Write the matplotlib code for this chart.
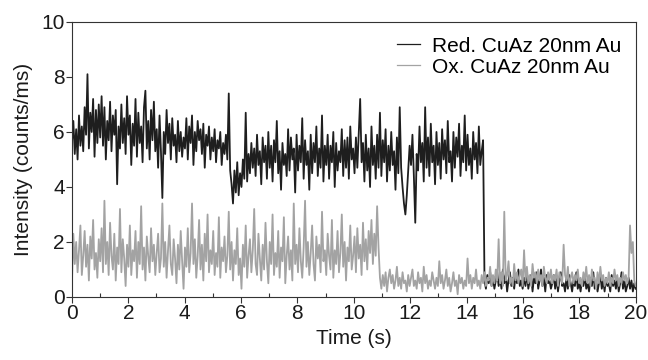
#!/usr/bin/env python3

import matplotlib
matplotlib.use('Agg')
import matplotlib.pyplot as plt
import numpy as np
from matplotlib.ticker import MultipleLocator

# intensity traces, one row per second (20 samples/s)
red = [
    5.6, 6.4, 5.2, 6.1, 5.0, 6.6, 5.5, 6.2, 5.3, 6.9, 5.9, 8.1, 5.4, 6.7, 6.0, 7.2, 5.1, 6.8, 5.6, 7.0,
    5.8, 7.3, 5.5, 6.9, 5.0, 6.4, 5.7, 7.1, 5.3, 6.6, 5.9, 6.8, 4.1, 6.2, 5.4, 7.0, 5.6, 6.5, 5.2, 7.3,
    5.9, 6.6, 4.8, 6.3, 5.5, 7.2, 5.1, 6.7, 5.6, 6.2, 4.9, 6.9, 7.5, 5.4, 6.4, 5.0, 6.8, 5.7, 7.1, 5.3,
    6.1, 4.7, 6.6, 5.3, 3.6, 6.0, 5.2, 6.8, 5.6, 6.3, 5.0, 6.5, 5.5, 5.9, 4.9, 6.4, 5.3, 6.0, 5.1, 5.8,
    5.4, 6.5, 5.0, 6.2, 5.6, 6.6, 4.8, 6.0, 5.3, 6.4, 5.7, 6.1, 5.2, 6.3, 4.7, 5.9, 5.5, 6.2, 5.0, 5.8,
    5.3, 6.1, 4.9, 5.7, 5.4, 6.0, 4.8, 5.6, 5.2, 5.9, 5.0, 7.4, 4.6, 4.1, 3.4, 4.6, 3.8, 4.9, 3.7, 4.5,
    4.0, 5.0, 4.3, 6.7, 4.2, 5.2, 4.5, 5.6, 4.7, 5.4, 4.4, 5.9, 4.8, 5.3, 4.1, 5.8, 4.9, 5.5, 4.3, 6.0,
    4.7, 5.5, 4.2, 5.7, 4.9, 6.4, 4.5, 5.3, 3.9, 5.6, 4.8, 5.2, 4.4, 6.1, 4.6, 5.8, 5.0, 5.4, 3.8, 5.9,
    4.6, 5.5, 4.9, 6.5, 4.3, 5.7, 4.8, 5.3, 3.9, 5.9, 4.5, 5.6, 4.9, 6.2, 4.4, 5.4, 4.7, 6.6, 4.2, 5.5,
    4.8, 5.9, 4.3, 5.5, 4.9, 6.0, 4.0, 5.6, 4.6, 5.3, 4.9, 6.1, 4.4, 5.7, 4.7, 5.8, 4.3, 6.2, 5.0, 5.4,
    4.5, 5.8, 4.7, 6.0, 7.2, 4.9, 5.6, 4.2, 5.9, 4.6, 5.4, 4.0, 6.2, 4.8, 5.5, 4.3, 5.9, 4.7, 6.7, 4.4,
    5.7, 4.9, 6.1, 4.2, 5.5, 4.6, 6.0, 4.8, 5.3, 3.9, 5.8, 4.5, 6.9, 4.7, 4.0, 3.4, 3.0, 3.7, 4.6, 5.5,
    4.8, 5.9, 4.4, 2.7, 5.2, 4.6, 6.2, 4.9, 5.6, 4.2, 6.9, 4.7, 5.8, 4.4, 6.3, 4.9, 5.5, 4.1, 6.0, 4.8,
    5.6, 4.3, 6.1, 5.0, 5.7, 4.5, 6.4, 4.9, 5.3, 4.2, 6.0, 4.7, 5.8, 5.1, 6.3, 4.4, 5.5, 4.9, 6.6, 4.6,
    5.9, 4.8, 5.4, 4.3, 6.0, 5.0, 5.6, 4.5, 6.2, 4.8, 5.3, 5.7, 0.6, 0.3, 0.8, 0.5, 0.9, 0.4, 0.7, 0.3,
    0.6, 0.9, 0.4, 0.7, 0.3, 1.0, 0.5, 0.8, 0.2, 0.6, 0.9, 0.4, 0.7, 0.3, 0.8, 0.5, 1.0, 0.4, 0.6, 0.3,
    0.7, 0.4, 0.9, 0.3, 0.6, 0.8, 0.2, 0.7, 0.5, 0.9, 0.3, 0.6, 1.0, 0.4, 0.7, 0.2, 0.8, 0.5, 0.6, 0.3,
    0.5, 0.8, 0.3, 0.7, 0.2, 0.6, 0.9, 0.4, 0.5, 0.2, 0.7, 0.3, 0.8, 0.5, 0.2, 0.6, 0.4, 0.9, 0.3, 0.5,
    0.2, 0.6, 0.4, 0.8, 0.3, 0.5, 0.2, 0.7, 0.4, 0.9, 0.3, 0.6, 0.2, 0.5, 0.8, 0.3, 0.6, 0.2, 0.7, 0.4,
    0.5, 0.2, 0.8, 0.4, 0.6, 0.3, 0.7, 0.2, 0.5, 0.9, 0.3, 0.6, 0.2, 0.4, 0.7, 0.3, 0.6, 0.2, 0.5, 0.3,
]

ox = [
    0.5, 2.3, 1.2, 2.0, 0.9, 1.7, 2.6, 0.8, 1.5, 2.4, 1.1, 1.9, 0.6, 2.2, 1.4, 2.8, 1.0, 1.6, 0.7, 2.1,
    1.3, 2.5, 0.9, 3.5, 1.2, 2.0, 0.8, 2.7, 1.5, 1.0, 2.3, 0.6, 1.8, 1.2, 3.2, 0.9, 2.1, 1.4, 0.4, 1.9,
    1.1, 2.6, 0.8, 1.7, 1.3, 2.4, 0.7, 2.0, 1.2, 3.3, 1.0, 1.8, 0.6, 2.2, 1.5, 0.9, 2.5, 1.3, 1.9, 0.8,
    1.6, 2.3, 0.9, 1.4, 3.4, 1.1, 2.0, 0.7, 1.7, 2.6, 1.2, 0.8, 2.1, 1.4, 0.5, 1.9, 1.0, 2.4, 1.3, 0.3,
    1.8, 1.1, 2.5, 0.9, 1.6, 3.4, 1.2, 2.1, 0.7, 1.5, 2.8, 1.0, 1.9, 0.6, 2.3, 1.3, 3.0, 0.9, 1.7, 1.2,
    2.4, 0.8, 1.6, 1.1, 2.9, 0.7, 1.8, 1.3, 2.2, 0.9, 1.5, 3.1, 1.0, 2.0, 0.6, 1.7, 1.2, 2.5, 0.8, 1.4,
    0.3, 1.9, 1.1, 2.6, 0.7, 1.5, 2.1, 0.9, 1.7, 3.2, 1.2, 0.8, 2.3, 1.4, 0.6, 1.9, 1.0, 2.7, 1.3, 0.5,
    2.0, 1.2, 3.0, 0.8, 1.6, 1.1, 2.4, 0.7, 1.8, 1.3, 2.9, 0.5, 1.5, 2.2, 1.0, 1.7, 0.6, 3.4, 1.2, 1.9,
    0.9, 2.5, 1.3, 0.7, 1.8, 3.5, 1.1, 2.0, 0.8, 1.6, 2.6, 1.2, 0.6, 2.2, 1.4, 1.9, 0.9, 3.1, 1.3, 1.7,
    0.8, 2.3, 1.5, 1.0, 2.8, 0.7, 1.7, 1.2, 2.4, 0.9, 1.6, 3.0, 1.1, 2.0, 0.6, 1.8, 1.3, 2.6, 1.0, 1.5,
    2.2, 0.9, 2.5, 1.4, 1.9, 0.8, 2.7, 1.3, 2.1, 1.0, 2.4, 1.6, 2.8, 1.2, 2.3, 1.5, 3.3, 1.8, 0.7, 0.3,
    0.8, 0.4, 0.9, 0.2, 0.7, 1.0, 0.5, 0.8, 0.3, 0.6, 1.1, 0.4, 0.7, 0.3, 0.9, 0.5, 0.6, 0.2, 0.8, 0.4,
    0.7, 1.0, 0.4, 0.6, 0.3, 0.9, 0.5, 0.7, 0.2, 1.1, 0.5, 0.8, 0.3, 0.6, 0.4, 0.9, 0.6, 0.3, 0.7, 0.4,
    1.3, 0.5, 0.8, 0.3, 0.6, 1.0, 0.4, 0.7, 0.2, 0.5, 0.9, 0.4, 0.6, 0.1, 0.8, 0.5, 0.7, 0.3, 0.6, 0.4,
    1.4, 0.5, 0.8, 0.3, 0.7, 0.5, 1.0, 0.4, 0.6, 0.3, 0.8, 0.5, 0.9, 0.4, 0.7, 0.6, 1.1, 0.4, 0.8, 0.5,
    1.0, 0.6, 2.1, 0.5, 0.9, 0.4, 3.1, 0.6, 0.8, 1.3, 0.5, 0.7, 0.4, 1.2, 0.6, 0.9, 0.5, 0.8, 1.0, 0.4,
    1.7, 0.6, 1.1, 0.5, 0.8, 0.4, 1.2, 0.7, 0.9, 0.5, 1.0, 0.6, 0.8, 0.4, 1.1, 0.7, 0.5, 0.9, 0.6, 1.0,
    0.5, 0.8, 0.6, 1.0, 0.4, 0.9, 0.7, 0.5, 1.9, 0.8, 0.6, 1.1, 0.4, 0.7, 0.9, 0.5, 0.8, 0.6, 1.0, 0.5,
    0.7, 0.4, 0.9, 0.6, 1.1, 0.5, 0.8, 0.4, 1.0, 0.6, 0.7, 0.3, 0.9, 0.5, 1.1, 0.6, 0.8, 0.4, 0.7, 0.5,
    0.9, 0.4, 0.7, 0.5, 1.0, 0.6, 0.8, 0.4, 0.7, 0.5, 0.9, 0.6, 0.8, 0.5, 0.7, 2.6, 1.6, 2.0, 0.6, 0.4,
]

labels = ['Red. CuAz 20nm Au', 'Ox. CuAz 20nm Au']


def main():
    plt.rcParams['font.family'] = ['Liberation Sans', 'DejaVu Sans']
    plt.rcParams['font.size'] = 15

    t_red = np.linspace(0, 20, len(red))
    t_ox = np.linspace(0, 20, len(ox))

    fig = plt.figure(figsize=(6.48, 3.6), dpi=100)
    ax = fig.add_axes([0.111, 0.175, 0.870, 0.764])

    ax.plot(t_red, red, color='#1e1e1e', lw=1.3, label=labels[0])
    ax.plot(t_ox, ox, color='#a3a3a3', lw=1.3, label=labels[1])

    ax.set_xlim(0, 20)
    ax.set_ylim(0, 10)
    ax.xaxis.set_major_locator(MultipleLocator(2))
    ax.xaxis.set_minor_locator(MultipleLocator(1))
    ax.yaxis.set_major_locator(MultipleLocator(2))
    ax.tick_params(which='major', direction='out', length=4, width=0.8, colors='#333333',
                   labelcolor='#1a1a1a', labelsize=15, pad=1)
    ax.tick_params(axis='x', which='minor', direction='in', length=3, width=0.8, colors='#333333')
    for s in ax.spines.values():
        s.set_color('#333333')
        s.set_linewidth(0.8)

    ax.set_xlabel('Time (s)', fontsize=15, color='#1a1a1a', labelpad=4)
    ax.set_ylabel('Intensity (counts/ms)', fontsize=15, color='#1a1a1a', labelpad=6)

    leg = ax.legend(loc='upper right', frameon=False, fontsize=15, handlelength=1.1,
                    handletextpad=0.55, labelspacing=0.1, borderaxespad=0.3)
    for h in leg.get_lines():
        h.set_linewidth(0.9)

    fig.savefig('out.png', dpi=100)


if __name__ == '__main__':
    main()
